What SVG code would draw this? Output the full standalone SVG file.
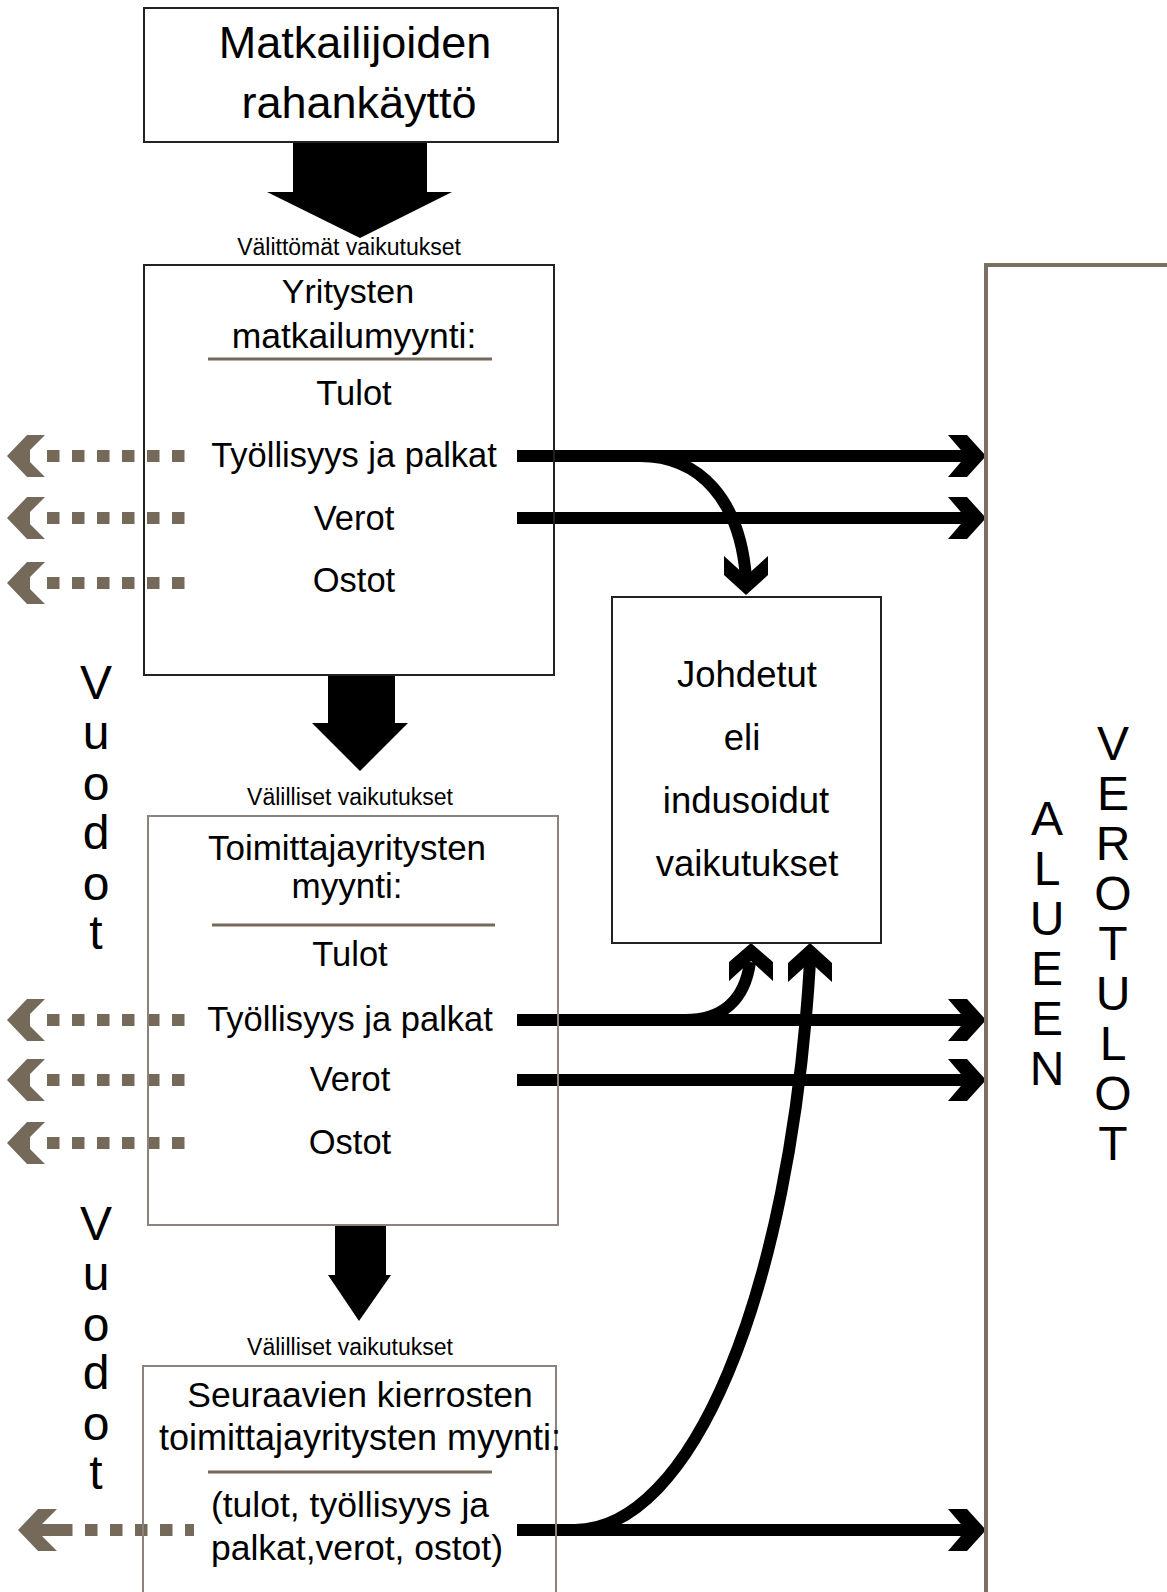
<svg xmlns="http://www.w3.org/2000/svg" width="1167" height="1592" viewBox="0 0 1167 1592">
<style>
.box{fill:none;stroke:#222;stroke-width:2}
.boxb{fill:none;stroke:#8c8279;stroke-width:2}
.region{fill:none;stroke:#7b6f62;stroke-width:4}
.t{font-family:"Liberation Sans",Arial,sans-serif;fill:#000;text-anchor:middle}
.s23{font-size:23px}
.s35{font-size:35px}
.s48{font-size:48px}
.rule{stroke:#75695a;stroke-width:3}
.leak{fill:none;stroke:#75695a;stroke-width:12;stroke-dasharray:12.5 12.5}
.leakhead{fill:#75695a}
.flow{fill:none;stroke:#000;stroke-width:12}
.head{fill:#000}
</style>
<rect width="1167" height="1592" fill="#fff"/>

<g id="connectors">
  <!-- big downward arrows -->
  <polygon class="head" points="293,142 427,142 427,192 452,192 360,238 267,192 293,192"/>
  <polygon class="head" points="328,676 395,676 395,723 408,723 360,771 312,723 328,723"/>
  <polygon class="head" points="335,1226 386,1226 386,1275 391,1275 359,1321 328,1275 335,1275"/>

  <!-- leakage arrows (Vuodot) -->
  <path class="leak" d="M47 456H185M47 518H185M47 583H185M47 1020H185M47 1080H185M47 1143H185"/>
  <path class="leak" d="M60 1530H194"/>
  <g class="leakhead">
    <polygon points="7,456 27,435 45,435 30,450 30,462 45,477 27,477"/>
    <polygon points="7,518 27,497 45,497 30,512 30,524 45,539 27,539"/>
    <polygon points="7,583 27,562 45,562 30,577 30,589 45,604 27,604"/>
    <polygon points="7,1020 27,999 45,999 30,1014 30,1026 45,1041 27,1041"/>
    <polygon points="7,1080 27,1059 45,1059 30,1074 30,1086 45,1101 27,1101"/>
    <polygon points="7,1143 27,1122 45,1122 30,1137 30,1149 45,1164 27,1164"/>
    <polygon points="18,1530 38,1509 57,1509 42,1524 60,1524 60,1536 42,1536 57,1551 38,1551"/>
  </g>

  <!-- flows to regional tax revenue -->
  <path class="flow" d="M517 456H968M517 518H968M517 1020H968M517 1080H968M517 1530H968"/>
  <g class="head">
    <polygon points="948,435 967,435 986,456 967,477 948,477 966,456"/>
    <polygon points="948,497 967,497 986,518 967,539 948,539 966,518"/>
    <polygon points="948,999 967,999 986,1020 967,1041 948,1041 966,1020"/>
    <polygon points="948,1059 967,1059 986,1080 967,1101 948,1101 966,1080"/>
    <polygon points="948,1509 967,1509 986,1530 967,1551 948,1551 966,1530"/>
  </g>

  <!-- flows to induced effects -->
  <path class="flow" d="M640 456C700 456 740 500 746 578"/>
  <polygon class="head" points="724,556 746,576 768,556 768,575 746,595 724,575"/>
  <path class="flow" d="M685 1020C722 1020 745 1000 750 962"/>
  <polygon class="head" points="729,981 751,961 773,981 773,962 751,943 729,962"/>
  <path class="flow" d="M575 1530C690 1530 790 1300 810 962"/>
  <polygon class="head" points="788,982 810,962 832,982 832,963 810,943 788,963"/>
</g>

<g id="box-spending">
  <rect class="box" x="144" y="8" width="414" height="134"/>
  <text class="t" x="355" y="58" font-size="45">Matkailijoiden</text>
  <text class="t" x="359" y="118" font-size="45">rahankäyttö</text>
</g>

<text id="label-direct" class="t s23" x="349" y="255">Välittömät vaikutukset</text>

<g id="box-firms">
  <rect class="box" x="144" y="265" width="410" height="410"/>
  <text class="t" x="348" y="303" font-size="34">Yritysten</text>
  <text class="t" x="354" y="348" font-size="35.5">matkailumyynti:</text>
  <line class="rule" x1="208" y1="359" x2="492" y2="359"/>
  <text class="t" x="354" y="405" font-size="34.5">Tulot</text>
  <text class="t" x="354" y="467" font-size="34.5">Työllisyys ja palkat</text>
  <text class="t" x="354" y="530" font-size="34.5">Verot</text>
  <text class="t" x="354" y="592" font-size="34.5">Ostot</text>
</g>

<text id="label-indirect-1" class="t s23" x="350" y="805">Välilliset vaikutukset</text>

<g id="box-suppliers">
  <rect class="boxb" x="148" y="816" width="410" height="409"/>
  <text class="t s35" x="347" y="860">Toimittajayritysten</text>
  <text class="t s35" x="347" y="898">myynti:</text>
  <line class="rule" x1="212" y1="925" x2="495" y2="925"/>
  <text class="t" x="350" y="966" font-size="34.5">Tulot</text>
  <text class="t" x="350" y="1031" font-size="34.5">Työllisyys ja palkat</text>
  <text class="t" x="350" y="1091" font-size="34.5">Verot</text>
  <text class="t" x="350" y="1154" font-size="34.5">Ostot</text>
</g>

<text id="label-indirect-2" class="t s23" x="350" y="1355">Välilliset vaikutukset</text>

<g id="box-next-rounds">
  <rect class="boxb" x="143" y="1366" width="413" height="260"/>
  <text class="t" x="360" y="1407" font-size="35.5">Seuraavien kierrosten</text>
  <text class="t" x="360" y="1450" font-size="36">toimittajayritysten myynti:</text>
  <line class="rule" x1="208" y1="1472" x2="492" y2="1472"/>
  <text class="t" x="350" y="1517" font-size="35.5">(tulot, työllisyys ja</text>
  <text class="t" x="357" y="1560" font-size="35.5">palkat,verot, ostot)</text>
</g>

<g id="box-induced">
  <rect class="box" x="612" y="597" width="269" height="346" stroke="#333"/>
  <text class="t" x="747" y="687" font-size="36.5">Johdetut</text>
  <text class="t" x="742" y="750" font-size="36.5">eli</text>
  <text class="t" x="746" y="813" font-size="36.5">indusoidut</text>
  <text class="t" x="747" y="876" font-size="36.5">vaikutukset</text>
</g>

<g id="region-tax">
  <path class="region" d="M986 1600V265H1170"/>
  <text class="t s48" x="1047"><tspan x="1047" y="835">A</tspan><tspan x="1047" y="885">L</tspan><tspan x="1047" y="935">U</tspan><tspan x="1047" y="985">E</tspan><tspan x="1047" y="1035">E</tspan><tspan x="1047" y="1085">N</tspan></text>
  <text class="t s48" x="1113"><tspan x="1113" y="760">V</tspan><tspan x="1113" y="810">E</tspan><tspan x="1113" y="860">R</tspan><tspan x="1113" y="910">O</tspan><tspan x="1113" y="960">T</tspan><tspan x="1113" y="1010">U</tspan><tspan x="1113" y="1060">L</tspan><tspan x="1113" y="1110">O</tspan><tspan x="1113" y="1160">T</tspan></text>
</g>

<g id="vuodot-1">
  <text class="t s48" x="96"><tspan x="96" y="699">V</tspan><tspan x="96" y="749">u</tspan><tspan x="96" y="800">o</tspan><tspan x="96" y="849">d</tspan><tspan x="96" y="900">o</tspan><tspan x="96" y="949">t</tspan></text>
</g>
<g id="vuodot-2">
  <text class="t s48" x="96"><tspan x="96" y="1240">V</tspan><tspan x="96" y="1290">u</tspan><tspan x="96" y="1341">o</tspan><tspan x="96" y="1389">d</tspan><tspan x="96" y="1440">o</tspan><tspan x="96" y="1489">t</tspan></text>
</g>
</svg>
